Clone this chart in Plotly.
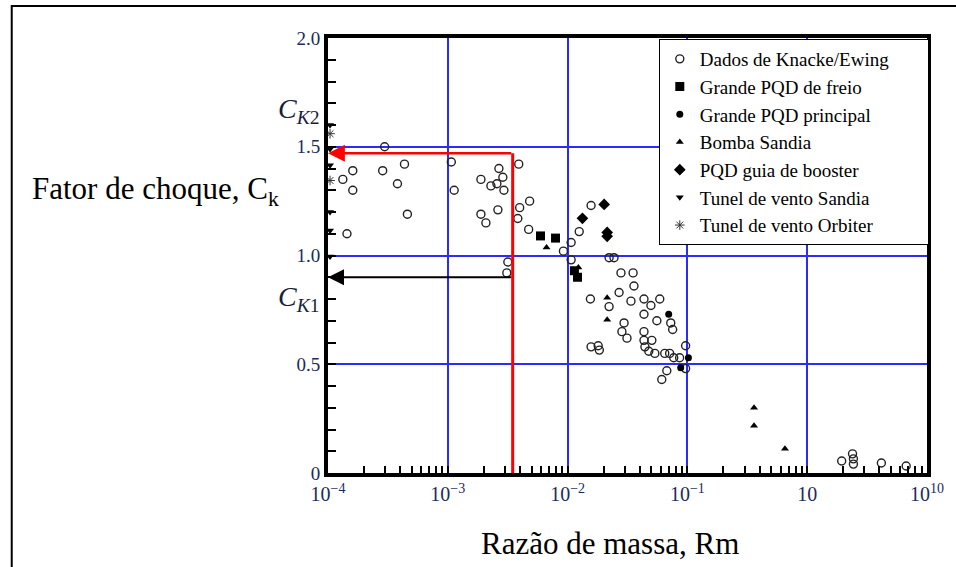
import math
import plotly.graph_objects as go

# Razão de massa (Rm) e fator de choque (Ck) por série
knacke_rm = [2.97e-4, 1.61e-4, 2.86e-4, 4.35e-4, 1.33e-4, 1.61e-4, 3.80e-4, 4.60e-4, 1.44e-4,
             1.07e-3, 1.13e-3, 1.89e-3, 2.67e-3, 2.88e-3, 2.29e-3, 2.57e-3, 2.94e-3, 1.89e-3,
             2.08e-3, 2.62e-3, 3.91e-3, 3.98e-3, 4.82e-3, 3.84e-3, 4.73e-3, 3.17e-3, 3.11e-3,
             9.23e-3, 1.07e-2, 1.25e-2, 1.57e-2, 1.07e-2, 2.22e-2, 2.44e-2, 2.79e-2, 3.52e-2,
             3.58e-2, 2.69e-2, 1.55e-2, 3.38e-2, 4.34e-2, 4.96e-2, 5.88e-2, 2.22e-2, 4.34e-2,
             5.56e-2, 7.26e-2, 7.53e-2, 2.96e-2, 2.84e-2, 3.13e-2, 4.34e-2, 4.34e-2, 5.05e-2,
             4.42e-2, 4.76e-2, 5.35e-2, 6.47e-2, 7.11e-2, 7.69e-2, 8.61e-2, 9.66e-2, 9.66e-2,
             6.73e-2, 6.11e-2, 1.57e-2, 1.80e-2, 1.84e-2, 1.94, 2.39, 2.43, 2.43, 4.16, 6.70]
knacke_ck = [1.50, 1.39, 1.39, 1.42, 1.35, 1.30, 1.33, 1.19, 1.10,
             1.43, 1.30, 1.35, 1.40, 1.36, 1.32, 1.33, 1.30, 1.19,
             1.15, 1.21, 1.42, 1.22, 1.25, 1.17, 1.12, 0.97, 0.92,
             1.02, 1.06, 1.11, 1.23, 0.98, 0.99, 0.99, 0.92, 0.92,
             0.86, 0.83, 0.80, 0.79, 0.80, 0.77, 0.80, 0.765, 0.73,
             0.70, 0.69, 0.66, 0.69, 0.65, 0.62, 0.65, 0.61, 0.61,
             0.58, 0.56, 0.55, 0.55, 0.55, 0.53, 0.53, 0.585, 0.48,
             0.47, 0.43, 0.58, 0.585, 0.565, 0.055, 0.088, 0.065, 0.041, 0.046, 0.032]

freio_rm = [5.94e-3, 7.93e-3, 1.14e-2, 1.21e-2]
freio_ck = [1.09, 1.08, 0.93, 0.90]

principal_rm = [6.98e-2, 0.102, 8.79e-2]
principal_ck = [0.73, 0.53, 0.484]

bomba_rm = [6.67e-3, 1.23e-2, 2.14e-2, 2.14e-2, 0.360, 0.360, 0.652]
bomba_ck = [1.037, 0.945, 0.806, 0.705, 0.300, 0.217, 0.111]

booster_rm = [2.02e-2, 1.33e-2, 2.14e-2, 2.14e-2]
booster_ck = [1.235, 1.171, 1.106, 1.088]

tunel_sandia_rm = [1.04e-4, 1.04e-4, 1.04e-4, 1.04e-4, 1.04e-4, 1.04e-4]
tunel_sandia_ck = [1.60, 1.49, 1.415, 1.20, 1.115, 0.995]

orbiter_rm = [1.04e-4, 1.04e-4]
orbiter_ck = [1.56, 1.345]

# Rm de projeto e fatores de choque correspondentes
rm_star = 3.48e-3
ck2 = 1.47
ck1 = 0.90

x_tickvals = [1e-4, 1e-3, 1e-2, 1e-1, 1, 10]
x_ticktext = ["10<sup>\u22124</sup>", "10<sup>\u22123</sup>", "10<sup>\u22122</sup>",
              "10<sup>\u22121</sup>", "10", "10<sup>10</sup>"]
y_tickvals = [0, 0.5, 1.0, 1.5, 2.0]
y_ticktext = ["0", "0.5", "1.0", "1.5", "2.0"]

SERIF = "Liberation Serif"
NAVY = "#1d2a5a"
DARK = "#1a1d3a"
GRID = "#2b2bff"
PAD = "\u00a0" * 7  # alarga a caixa da legenda

fig = go.Figure()

series = [
    ("Dados de Knacke/Ewing" + PAD, knacke_rm, knacke_ck,
     dict(symbol="circle-open", size=8, color="#222", line=dict(width=1.4, color="#222"))),
    ("Grande PQD de freio", freio_rm, freio_ck, dict(symbol="square", size=9, color="black")),
    ("Grande PQD principal", principal_rm, principal_ck, dict(symbol="circle", size=7, color="black")),
    ("Bomba Sandia", bomba_rm, bomba_ck, dict(symbol="triangle-up", size=7, color="black")),
    ("PQD guia de booster", booster_rm, booster_ck, dict(symbol="diamond", size=9, color="black")),
    ("Tunel de vento Sandia", tunel_sandia_rm, tunel_sandia_ck,
     dict(symbol="triangle-down", size=7, color="black")),
    ("Tunel de vento Orbiter", orbiter_rm, orbiter_ck,
     dict(symbol="asterisk-open", size=8, color="#333", line=dict(width=1, color="#333"))),
]
for name, xs, ys, mk in series:
    fig.add_trace(go.Scatter(x=xs, y=ys, mode="markers", name=name, marker=mk, cliponaxis=False))

# Linha vertical vermelha em Rm de projeto
fig.add_trace(go.Scatter(x=[rm_star, rm_star], y=[0, ck2], mode="lines",
                         line=dict(color="red", width=3), showlegend=False, hoverinfo="skip"))

annotations = [
    # seta vermelha até Ck2
    dict(x=math.log10(x_tickvals[0]), y=ck2, ax=math.log10(rm_star), ay=ck2,
         xref="x", yref="y", axref="x", ayref="y", text="", showarrow=True,
         arrowhead=2, arrowsize=1.3, arrowwidth=2.6, arrowcolor="red"),
    # seta preta até Ck1
    dict(x=math.log10(x_tickvals[0]), y=ck1, ax=math.log10(rm_star), ay=ck1,
         xref="x", yref="y", axref="x", ayref="y", text="", showarrow=True,
         arrowhead=2, arrowsize=1.6, arrowwidth=2, arrowcolor="black"),
    dict(x=-0.0099, y=0.834, xref="paper", yref="paper", xanchor="right", yanchor="middle",
         text="<i>C</i><sub><i>K</i>2</sub>", showarrow=False,
         font=dict(family=SERIF, size=28, color=DARK)),
    dict(x=-0.0099, y=0.402, xref="paper", yref="paper", xanchor="right", yanchor="middle",
         text="<i>C</i><sub><i>K</i>1</sub>", showarrow=False,
         font=dict(family=SERIF, size=28, color=DARK)),
    dict(x=-0.4967, y=0.648, xref="paper", yref="paper", xanchor="left", yanchor="middle",
         text="Fator de choque, C<sub>k</sub>", showarrow=False,
         font=dict(family=SERIF, size=31, color="black")),
    dict(x=0.470, y=-0.161, xref="paper", yref="paper", xanchor="center", yanchor="middle",
         text="Razão de massa, Rm", showarrow=False,
         font=dict(family=SERIF, size=31, color="black")),
]

minor_x = [m * 10 ** e for e in range(-4, 1) for m in range(2, 10)]

fig.update_layout(
    width=956, height=567,
    margin=dict(l=328, r=22, t=38, b=94),
    paper_bgcolor="white", plot_bgcolor="white",
    font=dict(family=SERIF, color="black"),
    annotations=annotations,
    shapes=[dict(type="rect", xref="paper", yref="paper", x0=-0.528, x1=1.09,
                 y0=-0.35, y1=1.0736, line=dict(color="black", width=2), layer="below")],
    legend=dict(x=1.003, xanchor="right", y=0.9977, yanchor="top",
                bgcolor="white", bordercolor="black", borderwidth=1,
                font=dict(family=SERIF, size=19, color="black"), itemwidth=30),
    showlegend=True,
)
fig.update_xaxes(
    type="log", range=[-4, 1], tickmode="array", tickvals=x_tickvals, ticktext=x_ticktext,
    tickfont=dict(family=SERIF, size=20, color=NAVY),
    showgrid=True, gridcolor=GRID, gridwidth=1.5, zeroline=False,
    showline=True, linecolor="black", linewidth=4, mirror=True,
    ticks="inside", ticklen=7, tickcolor="black", tickwidth=1.5,
    minor=dict(tickmode="array", tickvals=minor_x, ticks="inside", ticklen=7,
               tickcolor="black", tickwidth=1.5, showgrid=False),
)
fig.update_yaxes(
    range=[0, 2.0], tickmode="array", tickvals=y_tickvals, ticktext=y_ticktext,
    tickfont=dict(family=SERIF, size=19, color=NAVY),
    showgrid=True, gridcolor=GRID, gridwidth=1.5, zeroline=False,
    showline=True, linecolor="black", linewidth=4, mirror=True,
    ticks="inside", ticklen=8, tickcolor="black", tickwidth=1.5,
    minor=dict(dtick=0.1, ticks="inside", ticklen=8, tickcolor="black", tickwidth=1.5,
               showgrid=False),
)

fig.write_html("out.html")
